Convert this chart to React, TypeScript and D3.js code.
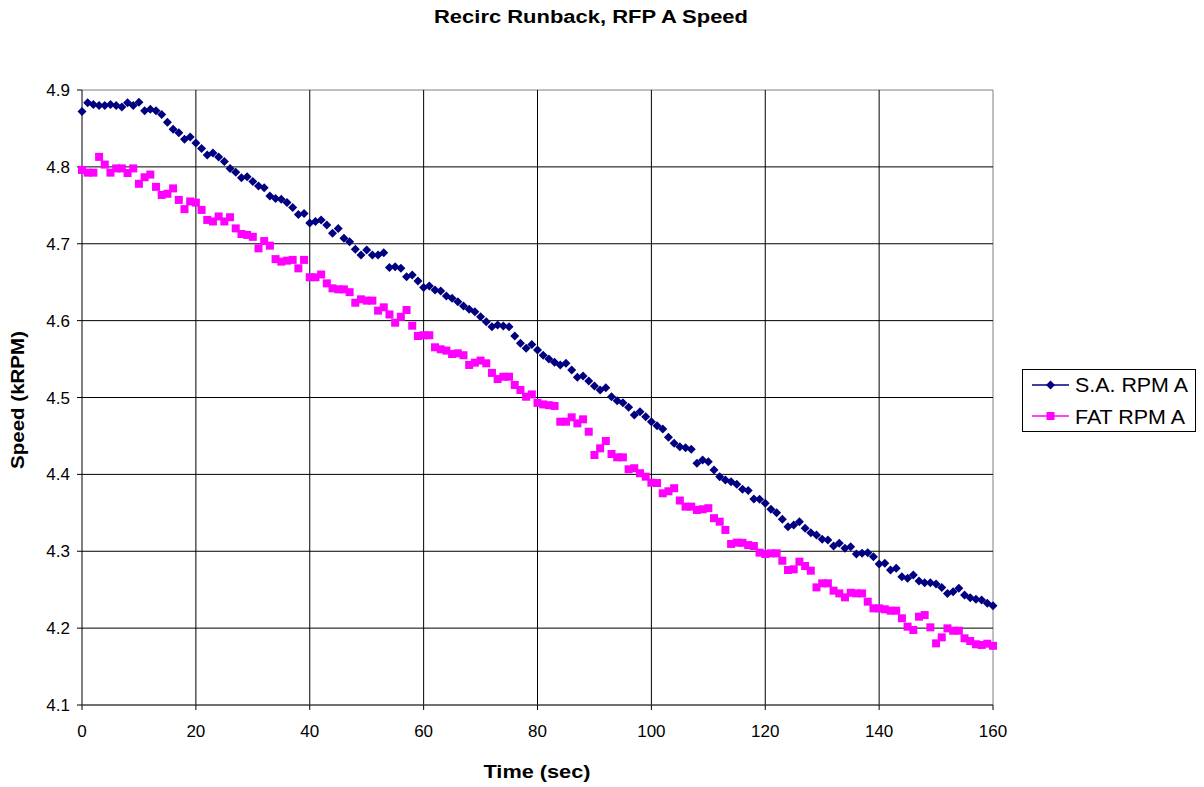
import React from "react";
import * as d3 from "d3";

const title = "Recirc Runback, RFP A Speed";
const xTitle = "Time (sec)";
const yTitle = "Speed (kRPM)";
const seriesNames = ["S.A. RPM A", "FAT RPM A"];
const xTicks = [0, 20, 40, 60, 80, 100, 120, 140, 160];
const yTicks = [4.1, 4.2, 4.3, 4.4, 4.5, 4.6, 4.7, 4.8, 4.9];

// one sample per second, t = 0..160
const saRpm = [
  4.872, 4.8835, 4.881, 4.880, 4.880, 4.881, 4.880, 4.878, 4.8835, 4.880,
  4.884, 4.873, 4.875, 4.873, 4.868, 4.858, 4.849, 4.8445, 4.836, 4.839,
  4.831, 4.824, 4.8155, 4.818, 4.813, 4.807, 4.798, 4.793, 4.786, 4.787,
  4.781, 4.775, 4.773, 4.762, 4.759, 4.758, 4.7535, 4.747, 4.738, 4.7395,
  4.727, 4.729, 4.731, 4.7245, 4.7136, 4.720, 4.707, 4.7027, 4.6928, 4.6854,
  4.692, 4.6854, 4.6854, 4.6884, 4.669, 4.670, 4.668, 4.657, 4.6593, 4.6515,
  4.643, 4.645, 4.640, 4.6385, 4.632, 4.629, 4.6246, 4.619, 4.6147, 4.6116,
  4.605, 4.5986, 4.592, 4.5943, 4.593, 4.592, 4.580, 4.5705, 4.564, 4.569,
  4.5618, 4.555, 4.550, 4.5458, 4.5423, 4.5445, 4.5358, 4.5263, 4.528, 4.5215,
  4.515, 4.5098, 4.5128, 4.501, 4.4958, 4.4932, 4.4872, 4.4772, 4.4815, 4.475,
  4.4685, 4.4633, 4.459, 4.4482, 4.4404, 4.436, 4.4347, 4.4326, 4.4144, 4.4187,
  4.4165, 4.4057, 4.397, 4.3927, 4.3905, 4.387, 4.3806, 4.379, 4.368, 4.3676,
  4.3624, 4.3546, 4.3502, 4.3416, 4.332, 4.3342, 4.3385, 4.3299, 4.3242, 4.3212,
  4.3156, 4.3146, 4.3068, 4.3103, 4.3038, 4.306, 4.2964, 4.2973, 4.2982, 4.293,
  4.2834, 4.2843, 4.2756, 4.2778, 4.2669, 4.2648, 4.2691, 4.2613, 4.259, 4.259,
  4.2574, 4.253, 4.2452, 4.2474, 4.2518, 4.243, 4.2396, 4.2375, 4.2366, 4.2322,
  4.2292,
];

const fatRpm = [
  4.796, 4.7925, 4.7925, 4.813, 4.803, 4.7925, 4.798, 4.798, 4.792, 4.798,
  4.778, 4.7865, 4.790, 4.774, 4.7635, 4.765, 4.772, 4.757, 4.745, 4.755,
  4.7535, 4.744, 4.731, 4.729, 4.7355, 4.729, 4.7345, 4.720, 4.7127, 4.7115,
  4.709, 4.694, 4.7035, 4.6975, 4.680, 4.6767, 4.678, 4.679, 4.668, 4.679,
  4.6564, 4.6564, 4.660, 4.6485, 4.642, 4.6407, 4.6407, 4.637, 4.6233, 4.6277,
  4.626, 4.626, 4.613, 4.6173, 4.608, 4.5973, 4.605, 4.6138, 4.5934, 4.580,
  4.581, 4.581, 4.5653, 4.5627, 4.561, 4.5566, 4.5575, 4.555, 4.5423, 4.5453,
  4.548, 4.5445, 4.532, 4.524, 4.527, 4.527, 4.5163, 4.5098, 4.501, 4.504,
  4.493, 4.491, 4.490, 4.489, 4.4685, 4.4685, 4.4742, 4.4664, 4.4716, 4.4555,
  4.4252, 4.4339, 4.4434, 4.4265, 4.4222, 4.4222, 4.4066, 4.408, 4.4015, 4.397,
  4.3892, 4.3888, 4.3754, 4.378, 4.382, 4.366, 4.358, 4.358, 4.3537, 4.3546,
  4.356, 4.343, 4.3385, 4.3277, 4.3095, 4.3112, 4.311, 4.308, 4.3068, 4.2982,
  4.2964, 4.2973, 4.2973, 4.2877, 4.2756, 4.2765, 4.2864, 4.2808, 4.2747, 4.253,
  4.2583, 4.2583, 4.2487, 4.2452, 4.240, 4.246, 4.2452, 4.2452, 4.2344, 4.2257,
  4.2257, 4.2245, 4.2227, 4.2227, 4.2128, 4.2019, 4.1976, 4.2149, 4.217, 4.201,
  4.1802, 4.188, 4.1997, 4.1966, 4.1966, 4.1867, 4.1832, 4.179, 4.1781, 4.1797,
  4.177,
];

const W = 1204;
const H = 787;
const L = 82, R = 993, T = 90, B = 705;
const FONT = "'Liberation Sans', Arial, sans-serif";
const NAVY = "#000080";
const MAGENTA = "#FF00FF";

export default function App() {
  const x = d3.scaleLinear().domain([0, 160]).range([L, R]);
  const y = d3.scaleLinear().domain([4.1, 4.9]).range([B, T]);
  const diamond = (cx: number, cy: number, r: number) =>
    `M${cx},${cy - r}L${cx + r},${cy}L${cx},${cy + r}L${cx - r},${cy}Z`;

  return (
    <svg
      width={W}
      height={H}
      style={{ position: "absolute", left: 0, top: 0, background: "#fff" }}
      fontFamily={FONT}
    >
      <rect x={0} y={0} width={W} height={H} fill="#fff" />
      {/* title */}
      <text x={591} y={23} textAnchor="middle" fontWeight="bold" fontSize={18}
        textLength={314} lengthAdjust="spacingAndGlyphs">{title}</text>

      {/* plot border top/right */}
      <line x1={L} x2={R} y1={T} y2={T} stroke="#808080" strokeWidth={1} />
      <line x1={R} x2={R} y1={T} y2={B} stroke="#808080" strokeWidth={1} />

      {/* horizontal gridlines */}
      {yTicks.filter((v) => v > 4.1 && v < 4.9).map((v) => (
        <line key={"h" + v} x1={L} x2={R} y1={y(v)} y2={y(v)} stroke="#000" strokeWidth={1} />
      ))}
      {/* vertical gridlines */}
      {xTicks.filter((v) => v > 0 && v < 160).map((v) => (
        <line key={"v" + v} x1={x(v)} x2={x(v)} y1={T} y2={B} stroke="#000" strokeWidth={1} />
      ))}

      {/* axes */}
      <line x1={L} x2={L} y1={T} y2={B} stroke="#000" strokeWidth={1} />
      <line x1={L} x2={R} y1={B} y2={B} stroke="#404040" strokeWidth={1.5} />

      {/* y ticks */}
      {yTicks.map((v) => (
        <g key={"yt" + v}>
          <line x1={L - 5} x2={L} y1={y(v)} y2={y(v)} stroke="#000" />
          <text x={70} y={y(v) + 6} textAnchor="end" fontSize={17}>{v.toFixed(1)}</text>
        </g>
      ))}
      {/* x ticks */}
      {xTicks.map((v) => (
        <g key={"xt" + v}>
          <line x1={x(v)} x2={x(v)} y1={B} y2={B + 5} stroke="#000" />
          <text x={x(v)} y={737} textAnchor="middle" fontSize={17}>{v}</text>
        </g>
      ))}

      {/* axis titles */}
      <text x={537} y={778} textAnchor="middle" fontWeight="bold" fontSize={19}
        textLength={107} lengthAdjust="spacingAndGlyphs">{xTitle}</text>
      <text transform={`translate(24,400) rotate(-90)`} textAnchor="middle" fontWeight="bold" fontSize={19}
        textLength={138} lengthAdjust="spacingAndGlyphs">{yTitle}</text>

      {/* series markers */}
      {fatRpm.map((v, i) => (
        <rect key={"f" + i} x={x(i) - 4} y={y(v) - 4} width={8} height={8} fill={MAGENTA} />
      ))}
      {saRpm.map((v, i) => (
        <path key={"s" + i} d={diamond(x(i), y(v), 4.5)} fill={NAVY} />
      ))}

      {/* legend */}
      <rect x={1022.5} y={369.5} width={173} height={62} fill="#fff" stroke="#000" strokeWidth={1} />
      <line x1={1032} x2={1069} y1={385} y2={385} stroke={NAVY} strokeWidth={1.5} />
      <path d={diamond(1050.5, 385, 4.5)} fill={NAVY} />
      <text x={1075} y={392} fontSize={20} textLength={113} lengthAdjust="spacingAndGlyphs">{seriesNames[0]}</text>
      <line x1={1032} x2={1069} y1={416} y2={416} stroke={MAGENTA} strokeWidth={1.5} />
      <rect x={1046.5} y={412} width={8} height={8} fill={MAGENTA} />
      <text x={1075} y={423.5} fontSize={20} textLength={110} lengthAdjust="spacingAndGlyphs">{seriesNames[1]}</text>
    </svg>
  );
}
